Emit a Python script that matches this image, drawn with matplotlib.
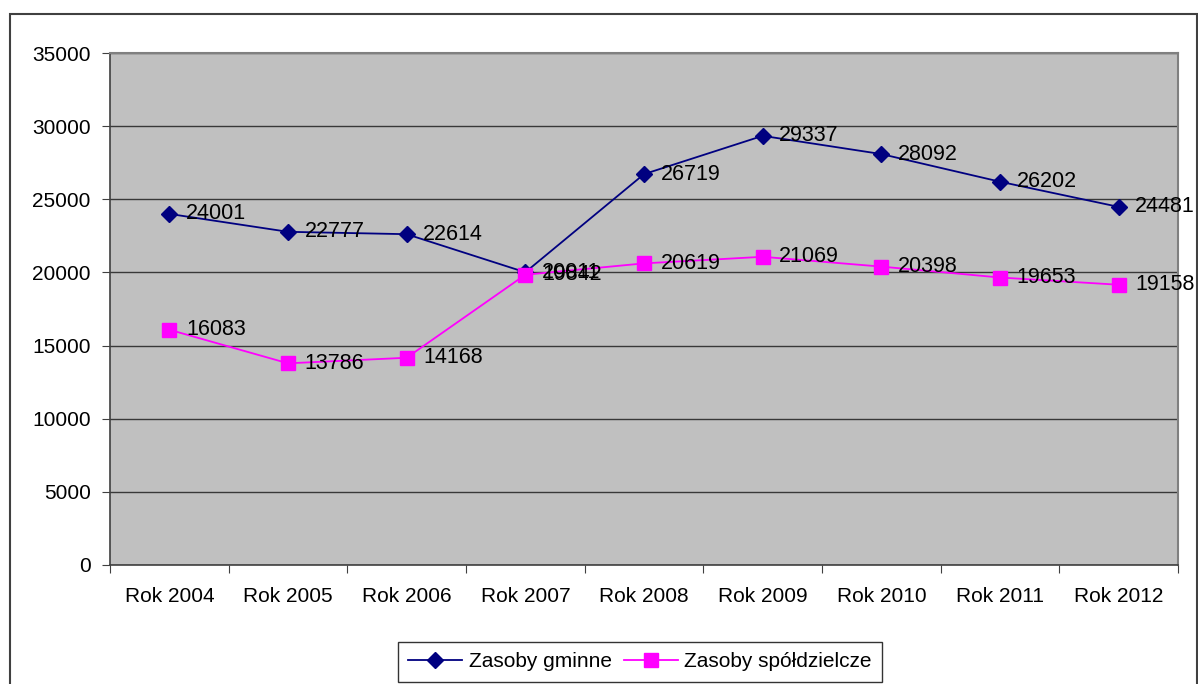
import numpy as np
import matplotlib.pyplot as plt
from matplotlib.patches import Rectangle

plt.rcParams['font.family'] = ['Liberation Sans', 'DejaVu Sans']

years = ["Rok 2004", "Rok 2005", "Rok 2006", "Rok 2007", "Rok 2008",
         "Rok 2009", "Rok 2010", "Rok 2011", "Rok 2012"]
gminne = [24001, 22777, 22614, 20011, 26719, 29337, 28092, 26202, 24481]
spoldz = [16083, 13786, 14168, 19842, 20619, 21069, 20398, 19653, 19158]

W, H = 1198, 684
fig = plt.figure(figsize=(W / 100, H / 100), dpi=100)
fig.patch.set_facecolor("white")

# outer chart border
fig.patches.append(Rectangle((10 / W, -0.05), (1197 - 10) / W, 1.05 - 14 / H,
                             transform=fig.transFigure, fill=False,
                             edgecolor="#404040", linewidth=1.5))

ax = fig.add_axes([110 / W, 1 - 565 / H, (1178 - 110) / W, (565 - 53) / H])
ax.set_facecolor("#C0C0C0")

x = np.arange(len(years))
l1, = ax.plot(x, gminne, color="#000080", lw=1.3, marker="D", ms=8,
              markerfacecolor="#000080", markeredgecolor="#000080", zorder=3)
l2, = ax.plot(x, spoldz, color="#FF00FF", lw=1.3, marker="s", ms=10,
              markerfacecolor="#FF00FF", markeredgecolor="#FF00FF", zorder=4)

for xi, v in zip(x, gminne):
    ax.annotate(str(v), (xi, v), xytext=(12, 0), textcoords="offset points",
                va="center", ha="left", fontsize=15.5, color="black", zorder=5)
for xi, v in zip(x, spoldz):
    ax.annotate(str(v), (xi, v), xytext=(12, 0), textcoords="offset points",
                va="center", ha="left", fontsize=15.5, color="black", zorder=5)

ax.set_xlim(-0.5, len(years) - 0.5)
ax.set_ylim(0, 35000)
ax.set_yticks(np.arange(0, 35001, 5000))
ax.yaxis.grid(True, color="#383838", lw=1)
ax.set_axisbelow(True)
ax.set_xticks(np.arange(-0.5, len(years), 1.0))
ax.set_xticklabels([])
ax.set_xticks(x, minor=True)
ax.set_xticklabels(years, minor=True)
ax.tick_params(axis="x", which="minor", length=0, pad=16, labelsize=15)
ax.tick_params(axis="x", which="major", length=6, direction="out", color="#404040")
ax.tick_params(axis="y", length=6, direction="out", color="#404040",
               labelsize=15, pad=8)

for s in ["top", "right"]:
    ax.spines[s].set_color("#808080")
    ax.spines[s].set_linewidth(1.5)
for s in ["left", "bottom"]:
    ax.spines[s].set_color("#404040")
    ax.spines[s].set_linewidth(1.2)

leg = fig.legend([l1, l2], ["Zasoby gminne", "Zasoby spółdzielcze"],
                 loc="upper center", bbox_to_anchor=(640 / W, 1 - 642 / H),
                 ncol=2, frameon=True, fancybox=False, fontsize=15,
                 handlelength=2.6, handletextpad=0.3, columnspacing=0.6,
                 borderpad=0.5, borderaxespad=0)
leg.get_frame().set_edgecolor("black")
leg.get_frame().set_linewidth(1.0)

fig.savefig("out.png", dpi=100)
